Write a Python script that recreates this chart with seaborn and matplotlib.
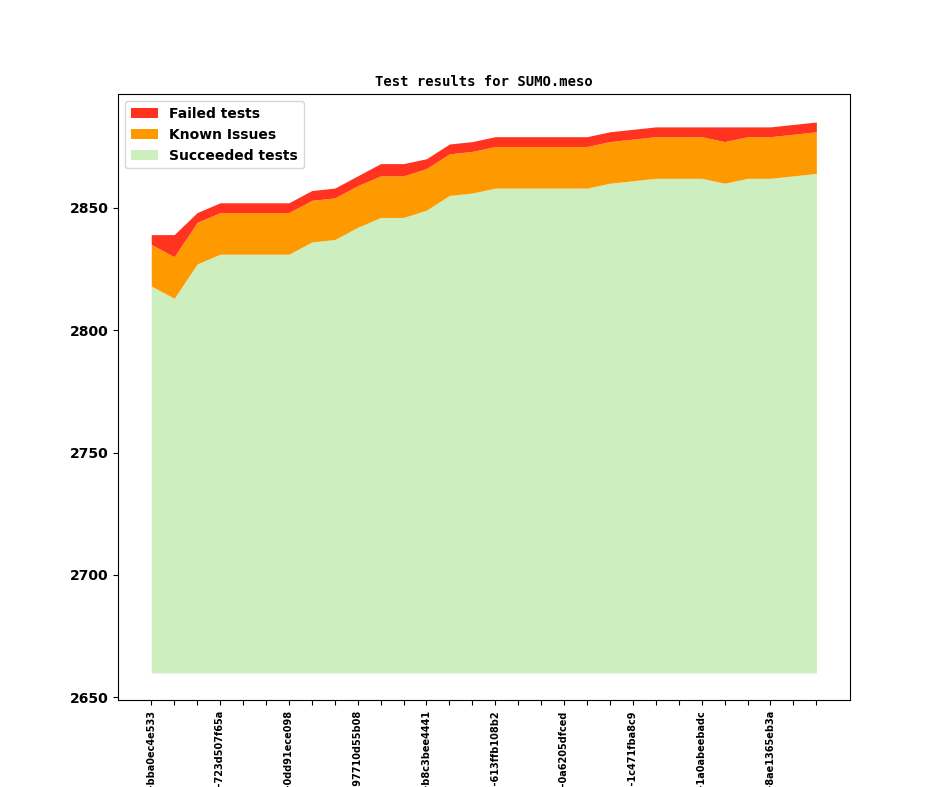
import matplotlib
matplotlib.use("Agg")
import matplotlib.pyplot as plt
import seaborn as sns
import pandas as pd

# Test counts per revision
revisions = [
    "v1_1_0+0412-bba0ec4e533", "v1_1_0+0418-3f1a2c9d0e1", "v1_1_0+0425-5b7e8a1c2d3",
    "v1_1_0+0431-723d507f65a", "v1_1_0+0437-9c2e4f6a8b0", "v1_1_0+0442-1d3f5a7c9e2",
    "v1_1_0+0450-0dd91ece098", "v1_1_0+0456-4a6c8e0b2d4", "v1_1_0+0463-6e8a0c2f4b6",
    "v1_1_0+10471-97710d55b08", "v1_1_0+0478-8b0d2f4a6c8", "v1_1_0+0484-2c4e6a8d0f1",
    "v1_1_0+10490-b8c3bee4441", "v1_1_0+0497-7d9f1b3e5a7", "v1_1_0+0503-3e5a7c9f1b3",
    "v1_1_0+0511-613ffb108b2", "v1_1_0+0518-5f7b9d1a3c5", "v1_1_0+0524-9a1c3e5b7d9",
    "v1_1_0+0530-0a6205dfced", "v1_1_0+0537-4b6d8f0c2e4", "v1_1_0+0544-8c0e2a4d6f8",
    "v1_1_0+0551-1c471fba8c9", "v1_1_0+0559-6d8f0b2e4a6", "v1_1_0+0566-2e4a6c8f0b2",
    "v1_1_0+0572-1a0abeebadc", "v1_1_0+0579-7f9b1d3a5c7", "v1_1_0+0585-3a5c7e9b1d3",
    "v1_1_0+10592-8ae1365eb3a", "v1_1_0+0598-9b1d3f5c7e9", "v1_1_0+0604-5c7e9a1d3f5",
]
succeeded = [2818, 2813, 2827, 2831, 2831, 2831, 2831, 2836, 2837, 2842,
             2846, 2846, 2849, 2855, 2856, 2858, 2858, 2858, 2858, 2858,
             2860, 2861, 2862, 2862, 2862, 2860, 2862, 2862, 2863, 2864]
known_issues = [17, 17, 17, 17, 17, 17, 17, 17, 17, 17,
                17, 17, 17, 17, 17, 17, 17, 17, 17, 17,
                17, 17, 17, 17, 17, 17, 17, 17, 17, 17]
failed = [4, 9, 4, 4, 4, 4, 4, 4, 4, 4,
          5, 5, 4, 4, 4, 4, 4, 4, 4, 4,
          4, 4, 4, 4, 4, 6, 4, 4, 4, 4]
base = 2660

df = pd.DataFrame({"rev": revisions, "succ": succeeded,
                   "known": known_issues, "failed": failed})
df["x"] = range(len(df))
df["top_known"] = df["succ"] + df["known"]
df["top_failed"] = df["top_known"] + df["failed"]

colors = sns.color_palette(["#cdeebf", "#ff9900", "#ff331f"])

fig, ax = plt.subplots(figsize=(9.44, 7.87), dpi=100)
ax.fill_between(df["x"], base, df["succ"], color=colors[0], lw=0, label="Succeeded tests")
ax.fill_between(df["x"], df["succ"], df["top_known"], color=colors[1], lw=0, label="Known Issues")
ax.fill_between(df["x"], df["top_known"], df["top_failed"], color=colors[2], lw=0, label="Failed tests")

ax.set_title("Test results for SUMO.meso", family="DejaVu Sans Mono",
             fontweight="bold", fontsize=10)
ax.set_xticks(df["x"])
ax.set_xticklabels([r if i % 3 == 0 else "" for i, r in enumerate(df["rev"])],
                   rotation=90, fontsize=7, fontweight="bold")
ax.set_yticks([2650, 2700, 2750, 2800, 2850])
for lab in ax.get_yticklabels():
    lab.set_fontweight("bold")

handles, labels = ax.get_legend_handles_labels()
ax.legend(handles[::-1], labels[::-1], loc="upper left",
          prop={"weight": "bold", "size": 10})

fig.savefig("out.png", dpi=100)
